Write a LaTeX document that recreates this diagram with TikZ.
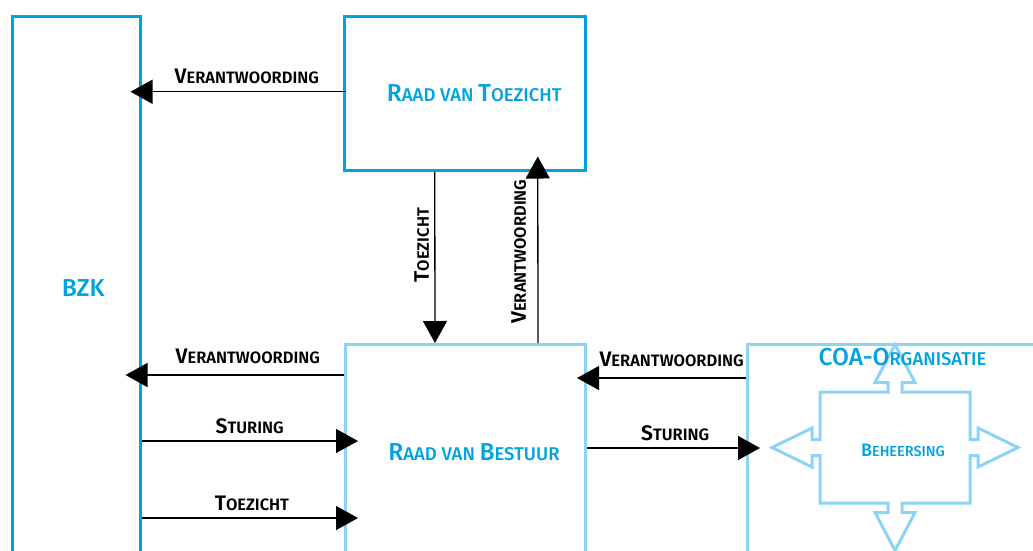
\documentclass[tikz,border=0pt]{standalone}
\usepackage{fontspec}
\setmainfont{Fira Sans}
\newfontfamily\medfont{Fira Sans Medium}
\newfontfamily\semifont{Fira Sans SemiBold}
\usetikzlibrary{arrows.meta,positioning,calc}
\definecolor{coadark}{HTML}{00A3E0}
\definecolor{coalight}{HTML}{8CD4F5}
% small caps by hand: first letter, rest
\newcommand{\kl}[2]{{\fontsize{21}{21}\selectfont #1}{\fontsize{16.5}{16.5}\selectfont #2}}
\newcommand{\kt}[2]{{\fontsize{24.5}{24.5}\selectfont #1}{\fontsize{18.5}{18.5}\selectfont #2}}
\newcommand{\kb}[2]{{\fontsize{18}{18}\selectfont #1}{\fontsize{14.5}{14.5}\selectfont #2}}

\begin{document}
\begin{tikzpicture}[
  x=1pt, y=-1pt,
  box/.style={draw, line width=2.5pt, inner sep=0pt, anchor=north west},
  dk/.style={box, draw=coadark},
  lt/.style={box, draw=coalight, line width=3pt},
  ttl/.style={text=coadark, inner sep=0pt, font=\medfont},
  arr/.style={-{Triangle[length=22pt,width=24pt]}, line width=1.3pt},
  lab/.style={font=\semifont, inner xsep=0pt, anchor=south}
]
\useasboundingbox (0,0) rectangle (1033,550);
\clip (0,0) rectangle (1033,550);

% Boxes
\node[dk, minimum width=128pt, minimum height=544pt,
  label={[ttl, xshift=7pt]center:{\fontsize{24.5}{24.5}\selectfont BZK}}] (bzk) at (11,15) {};
\node[dk, minimum width=241pt, minimum height=154pt,
  label={[ttl, xshift=9.5pt]center:{\kt{R}{AAD VAN }\kt{T}{OEZICHT}}}] (rvt) at (343,15) {};
\node[lt, minimum width=240pt, minimum height=216pt,
  label={[ttl, xshift=8.5pt]center:{\kt{R}{AAD VAN }\kt{B}{ESTUUR}}}] (rvb) at (344,343) {};
\node[lt, minimum width=400pt, minimum height=300pt] (coa) at (746,343) {};

% Beheersing cross
\coordinate (beh) at (895,447.5);
\begin{scope}[shift={(beh)}]
\draw[coalight, line width=3pt] (-75,-55.5) -- (-7,-55.5) -- (-7,-65) -- (-20,-65) -- (0,-103)
  -- (20,-65) -- (7,-65) -- (7,-55.5) -- (75,-55.5) -- (75,-8) -- (83,-8) -- (83,-19.5)
  -- (123,0) -- (83,19.5) -- (83,8) -- (75,8) -- (75,55.5) -- (7,55.5) -- (7,65) -- (20,65)
  -- (0,103) -- (-20,65) -- (-7,65) -- (-7,55.5) -- (-75,55.5) -- (-75,8) -- (-83,8)
  -- (-83,19.5) -- (-123,0) -- (-83,-19.5) -- (-83,-8) -- (-75,-8) -- cycle;
\end{scope}
\node[ttl] (behtxt) at (903,450) {\kb{B}{EHEERSING}};
\node[ttl] (coatxt) at (902.5,357.5) {\kt{COA-O}{RGANISATIE}};

% Connections
\draw[arr] ([xshift=3pt, yshift=1.5pt]rvt.west) -- ($(rvt.west -| bzk.east)+(-11pt,1.5pt)$)
  node[lab, pos=0.46, inner ysep=7pt] {\kl{V}{ERANTWOORDING}};
\draw[arr] ([xshift=-30pt]rvt.south) -- ([xshift=-30.5pt]rvb.north)
  node[lab, pos=0.43, rotate=90, inner ysep=5pt] {\kl{T}{OEZICHT}};
\draw[arr] ([xshift=72.5pt]rvb.north) -- ([xshift=73pt, yshift=15pt]rvt.south)
  node[lab, pos=0.49, rotate=90, inner ysep=11pt] {\kl{V}{ERANTWOORDING}};

\draw[arr] ($(rvb.north west)+(0,-32pt)$) -- ($(rvb.north west -| bzk.east)+(-16pt,-32pt)$)
  node[lab, pos=0.44, inner ysep=11pt] {\kl{V}{ERANTWOORDING}};
\draw[arr] ($(rvb.north west -| bzk.east)+(0,-98pt)$) -- ($(rvb.north west)+(14pt,-98pt)$)
  node[lab, pos=0.5, inner ysep=7pt] {\kl{S}{TURING}};
\draw[arr] ($(rvb.north west -| bzk.east)+(0,-175pt)$) -- ($(rvb.north west)+(14pt,-175pt)$)
  node[lab, pos=0.51, inner ysep=7pt] {\kl{T}{OEZICHT}};

\draw[arr] ($(coa.north west)+(0,-35pt)$) -- ($(rvb.north east)+(-10pt,-35pt)$)
  node[lab, pos=0.44, inner ysep=11pt] {\kl{V}{ERANTWOORDING}};
\draw[arr] ($(rvb.north east)+(0,-105pt)$) -- ($(coa.north west)+(14pt,-105pt)$)
  node[lab, pos=0.51, inner ysep=7pt] {\kl{S}{TURING}};

\end{tikzpicture}
\end{document}
